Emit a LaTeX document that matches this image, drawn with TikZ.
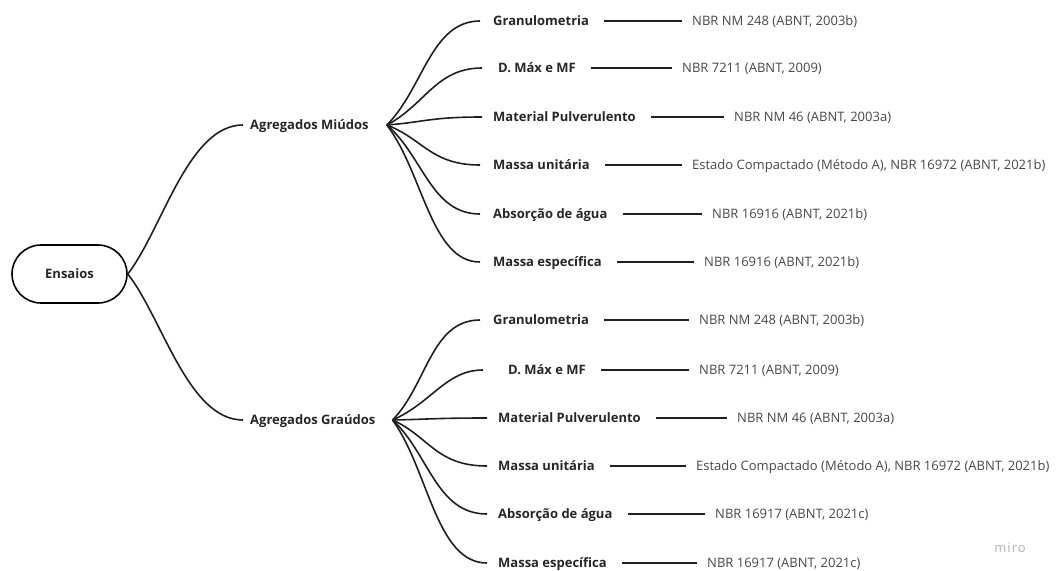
\documentclass[tikz,border=0pt]{standalone}
\usepackage{fontspec}
\setmainfont{Open Sans}
\usetikzlibrary{positioning, calc}

\begin{document}
\begin{tikzpicture}[
    x=1pt, y=-1pt,
    root_node/.style={draw, line width=1.6pt, rounded corners=29pt, minimum width=115pt,
        minimum height=58pt, text height=9.3pt, text depth=0pt,
        font=\fontsize{13}{15}\selectfont\bfseries, text=black!85},
    group_node/.style={inner xsep=7pt, text height=9.3pt, text depth=0pt,
        font=\fontsize{13}{15}\selectfont\bfseries, text=black!85},
    test_node/.style={anchor=west, inner sep=2pt, text height=9.3pt, text depth=0pt,
        font=\fontsize{13}{15}\selectfont\bfseries, text=black!85},
    ref_node/.style={anchor=west, inner sep=2pt, text height=9.3pt, text depth=0pt,
        font=\fontsize{13}{15}\selectfont, text=black!72},
    branch_line/.style={line width=1.6pt, black!88},
    link_line/.style={line width=1.8pt, black!88, shorten <=13pt, shorten >=8pt}
]
    \useasboundingbox (0,0) rectangle (1056,570);

    % ======================================================================
    % WURZEL
    % ======================================================================
    \node[root_node] (ensaios) at (69.5,274) {Ensaios};

    \node[group_node, anchor=west] (miudos) at (243,125) {Agregados Miúdos};
    \node[group_node, anchor=west] (graudos) at (243,420) {Agregados Graúdos};

    \draw[branch_line] (ensaios.east) .. controls ($(ensaios.east)!0.3!(miudos.west)$)
        and ($(miudos.west)+(-55,0)$) .. (miudos.west);
    \draw[branch_line] (ensaios.east) .. controls ($(ensaios.east)!0.3!(graudos.west)$)
        and ($(graudos.west)+(-55,0)$) .. (graudos.west);

    % Verzweigungspunkte
    \coordinate[right=11pt of miudos] (hubM);
    \coordinate[right=10pt of graudos] (hubG);

    % ======================================================================
    % AGREGADOS MIUDOS
    % ======================================================================
    \foreach \i/\y/\xc/\xt/\xr/\test/\ref in {
        1/21/480/494/693/{Granulometria}/{NBR NM 248 (ABNT, 2003b)},
        2/68/482/499/683/{D. Máx e MF}/{NBR 7211 (ABNT, 2009)},
        3/117/482/494/735/{Material Pulverulento}/{NBR NM 46 (ABNT, 2003a)},
        4/165/480/494/693/{Massa unitária}/{Estado Compactado (Método A), NBR 16972 (ABNT, 2021b)},
        5/214/480/494/713/{Absorção de água}/{NBR 16916 (ABNT, 2021b)},
        6/262/480/494/705/{Massa específica}/{NBR 16916 (ABNT, 2021b)}} {
        \pgfmathsetmacro{\gap}{\xt-3-\xc}
        \node[test_node] (m\i) at (\xt-3,\y) {\test};
        \node[ref_node] (rm\i) at (\xr-3,\y) {\ref};
        \draw[branch_line, shorten >=\gap pt] (hubM) .. controls ($(hubM)!0.35!(m\i.west)$)
            and ($(m\i.west)+(-60,0)$) .. (m\i.west);
        \draw[link_line] (m\i.east) -- (rm\i.west);
    }

    % ======================================================================
    % AGREGADOS GRAUDOS
    % ======================================================================
    \foreach \i/\y/\xc/\xt/\xr/\test/\ref in {
        1/320/480/494/700/{Granulometria}/{NBR NM 248 (ABNT, 2003b)},
        2/370/483/509/700/{D. Máx e MF}/{NBR 7211 (ABNT, 2009)},
        3/418/487/499/738/{Material Pulverulento}/{NBR NM 46 (ABNT, 2003a)},
        4/466/487/499/697/{Massa unitária}/{Estado Compactado (Método A), NBR 16972 (ABNT, 2021b)},
        5/514/487/499/716/{Absorção de água}/{NBR 16917 (ABNT, 2021c)},
        6/563/487/499/708/{Massa específica}/{NBR 16917 (ABNT, 2021c)}} {
        \pgfmathsetmacro{\gap}{\xt-3-\xc}
        \node[test_node] (g\i) at (\xt-3,\y) {\test};
        \node[ref_node] (rg\i) at (\xr-3,\y) {\ref};
        \draw[branch_line, shorten >=\gap pt] (hubG) .. controls ($(hubG)!0.35!(g\i.west)$)
            and ($(g\i.west)+(-60,0)$) .. (g\i.west);
        \draw[link_line] (g\i.east) -- (rg\i.west);
    }

    % Wasserzeichen
    \node[font=\fontsize{13}{15}\selectfont\addfontfeature{LetterSpace=8}, text=black!30]
        (miro) at (1010,548) {miro};

\end{tikzpicture}
\end{document}
